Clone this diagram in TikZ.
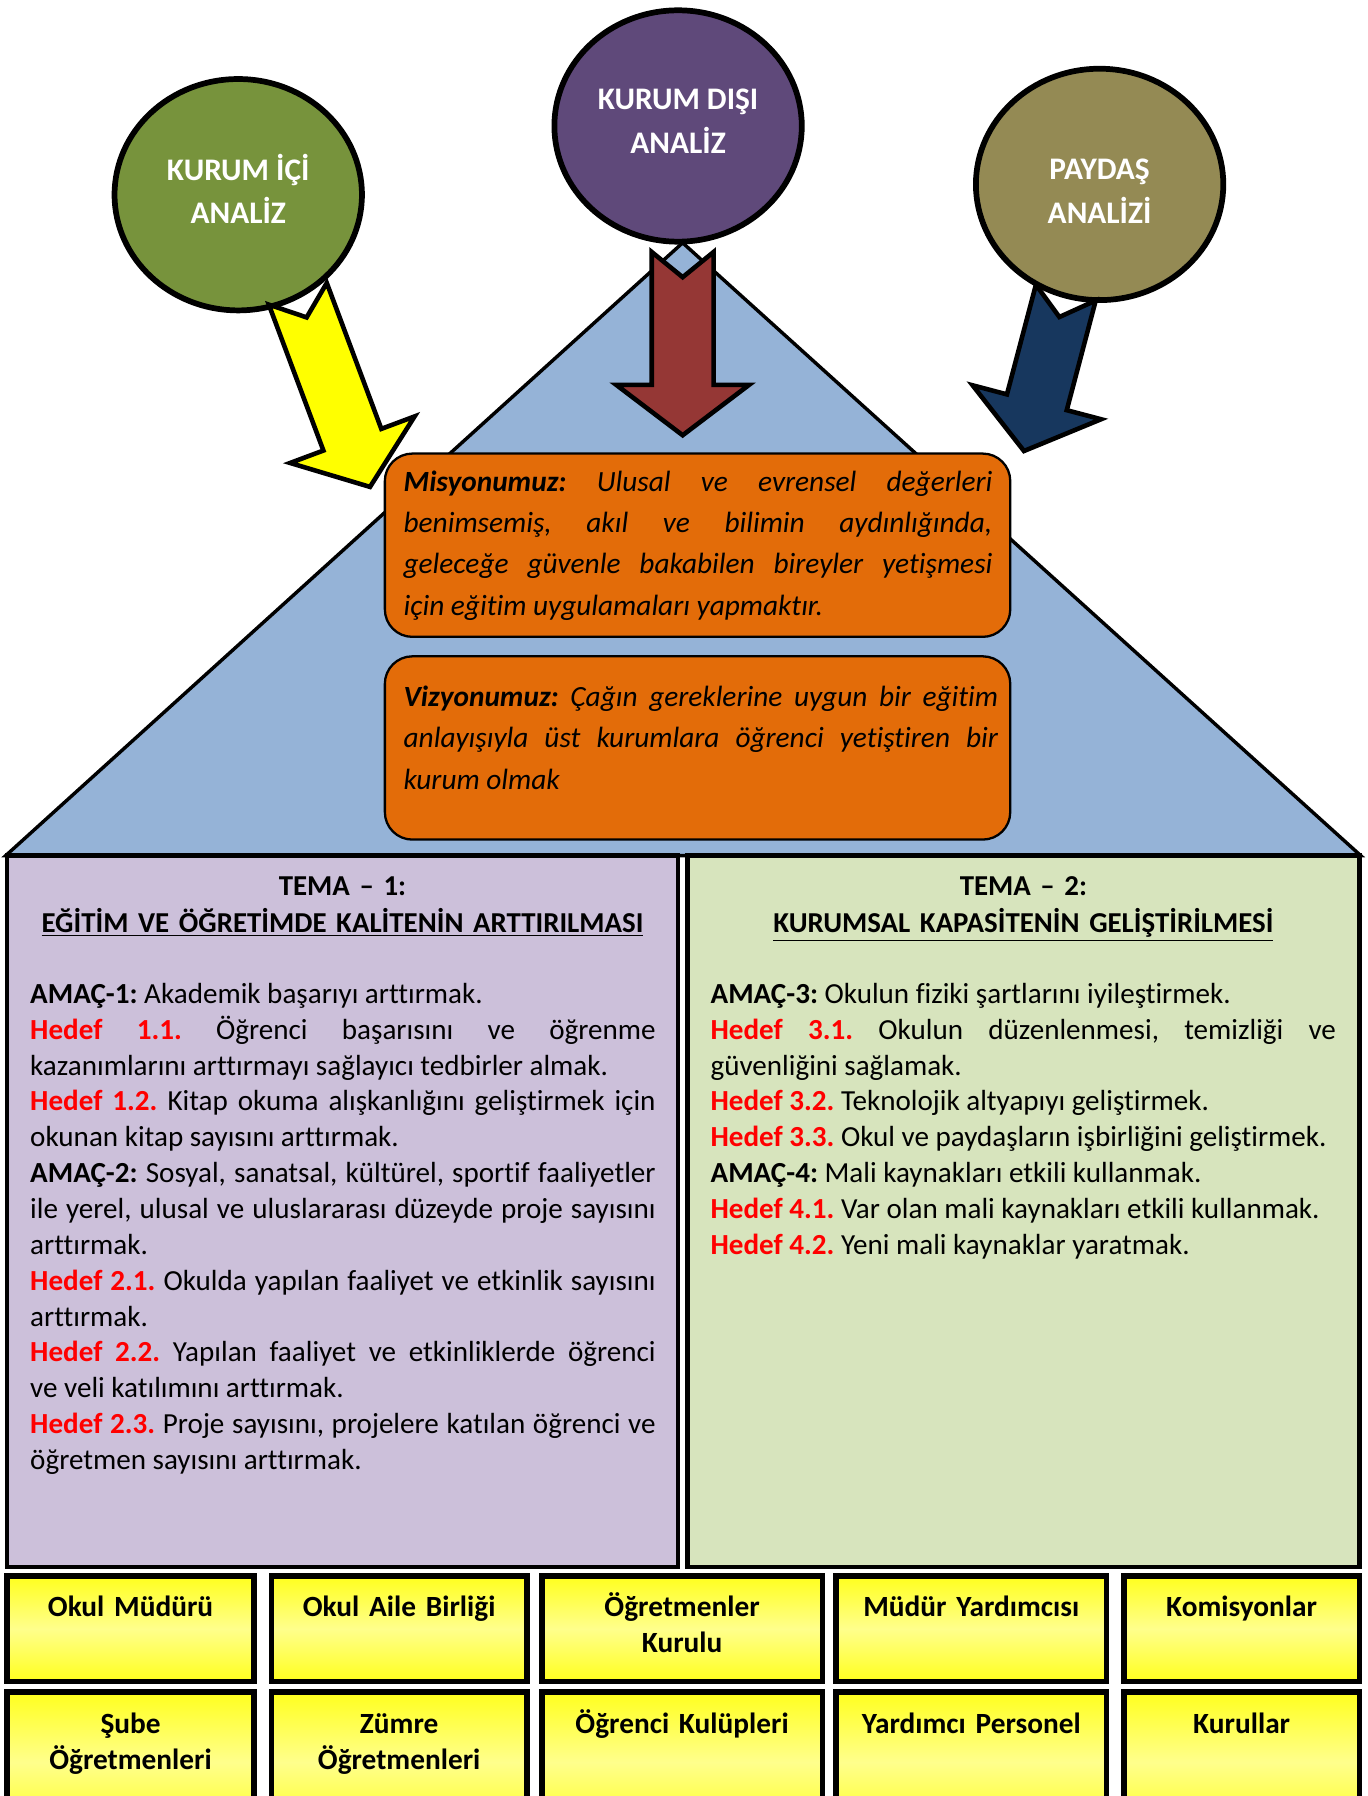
\documentclass[tikz,border=0pt]{standalone}
\usepackage{fontspec}
\setmainfont{Carlito}[Ligatures=NoCommon]
\usepackage{xcolor}
\usepackage{tikz}
\usetikzlibrary{calc}
\usetikzlibrary{shapes}
\usetikzlibrary{positioning}
\usetikzlibrary{shapes.geometric}

\definecolor{icigreen}{HTML}{77933C}
\definecolor{disipurple}{HTML}{5F497A}
\definecolor{paydasolive}{HTML}{948A54}
\definecolor{okyellow}{HTML}{FFFF00}
\definecolor{okred}{HTML}{953735}
\definecolor{oknavy}{HTML}{17375E}
\definecolor{catiblue}{HTML}{95B3D7}
\definecolor{misyonorange}{HTML}{E36C09}
\definecolor{temalila}{HTML}{CCC0DA}
\definecolor{temayesil}{HTML}{D7E4BD}
\definecolor{hedefred}{HTML}{FF0000}
\definecolor{kurulyellow}{HTML}{FFFF1E}
\definecolor{kurulpale}{HTML}{FFFF8C}

\hyphenpenalty=10000
\exhyphenpenalty=10000
\tolerance=10000
\frenchspacing

\newcommand{\amac}[1]{\textbf{AMAÇ-#1:}}
\newcommand{\hedef}[1]{\textcolor{hedefred}{\textbf{Hedef #1}}}

\tikzset{
  pics/blokok/.style={code={
    \draw[pic actions] (0,-27) -- (#1-44,-27) -- (#1-44,-58) -- (#1,0)
      -- (#1-44,58) -- (#1-44,27) -- (0,27) -- (22,0) -- cycle;
  }}
}
\tikzstyle{cati} = [draw=black, line width=1.5pt, fill=catiblue, line join=miter]
\tikzstyle{analiz} = [ellipse, draw=black, line width=2.5pt, minimum width=108pt, minimum height=101pt]
\tikzstyle{analizyazi} = [inner sep=0pt, text=white, align=center, font=\fontsize{13.7}{19}\selectfont\bfseries]
\tikzstyle{okstil} = [draw=black, line width=2pt, line join=miter]
\tikzstyle{bildirge} = [rectangle, rounded corners=12pt, draw=black, line width=1pt, fill=misyonorange, minimum width=273pt, minimum height=80pt]
\tikzstyle{bildirgemetin} = [anchor=base west, inner sep=0pt, align=justify, font=\fontsize{12.8}{18}\selectfont\itshape]
\tikzstyle{tema} = [draw=black, line width=2pt]
\tikzstyle{baslik} = [anchor=base, inner sep=0pt, text width=280pt, align=center, font=\fontsize{12.6}{16}\selectfont\bfseries]
\tikzstyle{metin} = [anchor=base west, inner sep=0pt, text width=273pt, align=justify, font=\fontsize{12.7}{15.65}\selectfont]
\tikzstyle{kurul} = [draw=black, line width=2.5pt, top color=kurulyellow, bottom color=kurulyellow, middle color=kurulpale]
\tikzstyle{kurulyazi} = [anchor=base, inner sep=0pt, text width=110pt, align=center, font=\fontsize{12.8}{16}\selectfont\bfseries]

\begin{document}
\begin{tikzpicture}[x=0.5pt, y=-0.5pt]
\useasboundingbox (0,0) rectangle (1194,1568);
\clip (0,0) rectangle (1194,1568);
\fill[white] (0,0) rectangle (1194,1568);

% cati
\draw[cati] (5,747) -- (596,212) -- (1188,747) -- cycle;

% analiz daireleri
\node[analiz, fill=icigreen] (ici) at (208,170) {};
\node[analiz, fill=disipurple] (disi) at (592,110) {};
\node[analiz, fill=paydasolive] (paydas) at (960,161) {};
\node[analizyazi] (iciyazi) at ($(ici)+(0,-5)$) {KURUM İÇİ\\ANALİZ};
\node[analizyazi] (disiyazi) at ($(disi)+(0,-4)$) {KURUM DIŞI\\ANALİZ};
\node[analizyazi] (paydasyazi) at ($(paydas)+(0,6)$) {PAYDAŞ\\ANALİZİ};

% oklar
\pic[okstil, fill=okyellow, rotate=-69.5] at (260,256.5) {blokok=180};
\pic[okstil, fill=okred, rotate=-90] at (596,220) {blokok=160};
\pic[okstil, fill=oknavy, rotate=-104.8] at (930.5,255.5) {blokok=143};

% misyon ve vizyon
\node[bildirge] (misyon) at (609,476) {};
\node[bildirge] (vizyon) at (609,653) {};
\node[bildirgemetin, text width=257pt] (misyonmetin) at (352,429)
  {\textbf{Misyonumuz:} Ulusal ve evrensel değerleri\linebreak benimsemiş, akıl ve bilimin aydınlığında,\linebreak geleceğe güvenle bakabilen bireyler yetişmesi\linebreak için eğitim uygulamaları yapmaktır.};
\node[bildirgemetin, text width=259.5pt] (vizyonmetin) at (352,617)
  {\textbf{Vizyonumuz:} Çağın gereklerine uygun bir eğitim\linebreak anlayışıyla üst kurumlara öğrenci yetiştiren bir\linebreak kurum olmak};

% temalar
\draw[tema, fill=temalila] (6,747) rectangle (592,1368);
\draw[tema, fill=temayesil] (600,747) rectangle (1187,1368);
\node[baslik] (tema1) at (299,782) {TEMA – 1:\\\underline{EĞİTİM VE ÖĞRETİMDE KALİTENİN ARTTIRILMASI}};
\node[baslik] (tema2) at (893.5,782) {TEMA – 2:\\\underline{KURUMSAL KAPASİTENİN GELİŞTİRİLMESİ}};

\node[metin] (amac1) at (26,876) {\amac{1} Akademik başarıyı arttırmak.\par
\hedef{1.1.} Öğrenci başarısını ve öğrenme\linebreak kazanımlarını arttırmayı sağlayıcı tedbirler almak.\par
\hedef{1.2.} Kitap okuma alışkanlığını geliştirmek için\linebreak okunan kitap sayısını arttırmak.\par
\amac{2} Sosyal, sanatsal, kültürel, sportif faaliyetler\linebreak ile yerel, ulusal ve uluslararası düzeyde proje sayısını\linebreak arttırmak.\par
\hedef{2.1.} Okulda yapılan faaliyet ve etkinlik sayısını\linebreak arttırmak.\par
\hedef{2.2.} Yapılan faaliyet ve etkinliklerde öğrenci\linebreak ve veli katılımını arttırmak.\par
\hedef{2.3.} Proje sayısını, projelere katılan öğrenci ve\linebreak öğretmen sayısını arttırmak.};

\node[metin] (amac3) at (620,876) {\amac{3} Okulun fiziki şartlarını iyileştirmek.\par
\hedef{3.1.} Okulun düzenlenmesi, temizliği ve\linebreak güvenliğini sağlamak.\par
\hedef{3.2.} Teknolojik altyapıyı geliştirmek.\par
\hedef{3.3.} Okul ve paydaşların işbirliğini geliştirmek.\par
\amac{4} Mali kaynakları etkili kullanmak.\par
\hedef{4.1.} Var olan mali kaynakları etkili kullanmak.\par
\hedef{4.2.} Yeni mali kaynaklar yaratmak.};

% kurullar
\draw[kurul] (6,1376) rectangle (222,1468);
\draw[kurul] (237,1376) rectangle (460,1468);
\draw[kurul] (473,1376) rectangle (718,1468);
\draw[kurul] (730,1376) rectangle (966,1468);
\draw[kurul] (981,1376) rectangle (1187,1468);
\draw[kurul] (6,1477) rectangle (222,1600);
\draw[kurul] (237,1477) rectangle (460,1600);
\draw[kurul] (473,1477) rectangle (718,1600);
\draw[kurul] (730,1477) rectangle (966,1600);
\draw[kurul] (981,1477) rectangle (1187,1600);

\node[kurulyazi] (mudur) at (114,1411) {Okul Müdürü};
\node[kurulyazi] (aile) at (348.5,1411) {Okul Aile Birliği};
\node[kurulyazi] (ogrkurul) at (595.5,1411) {Öğretmenler\\Kurulu};
\node[kurulyazi] (yardimci) at (848,1411) {Müdür Yardımcısı};
\node[kurulyazi] (komisyon) at (1084,1411) {Komisyonlar};
\node[kurulyazi] (sube) at (114,1513) {Şube\\Öğretmenleri};
\node[kurulyazi] (zumre) at (348.5,1513) {Zümre\\Öğretmenleri};
\node[kurulyazi] (kulup) at (595.5,1513) {Öğrenci Kulüpleri};
\node[kurulyazi] (personel) at (848,1513) {Yardımcı Personel};
\node[kurulyazi] (kurullar) at (1084,1513) {Kurullar};
\end{tikzpicture}
\end{document}
